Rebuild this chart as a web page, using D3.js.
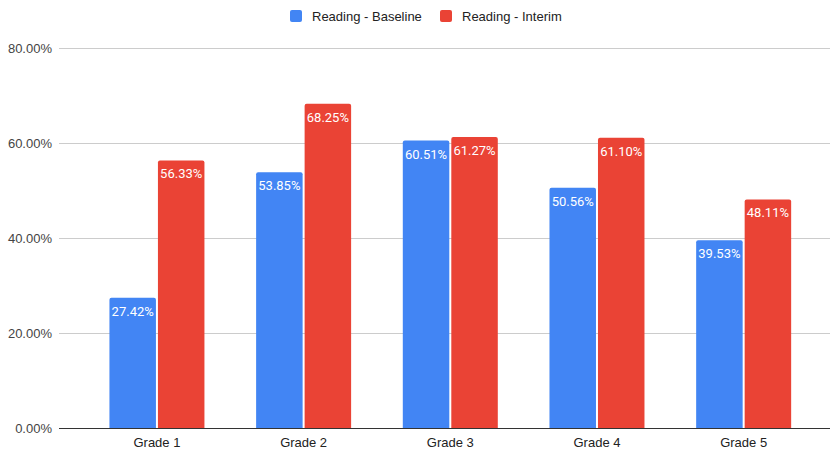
<!DOCTYPE html>
<html>
<head>
<meta charset="utf-8">
<script src="https://cdn.jsdelivr.net/npm/d3@7"></script>
<style>
  html, body { margin: 0; padding: 0; background: #fff; }
  svg { display: block; font-family: "Liberation Sans", Arial, sans-serif; }
</style>
</head>
<body>
<svg id="chart" width="832" height="454"></svg>
<script>
const categories = ["Grade 1", "Grade 2", "Grade 3", "Grade 4", "Grade 5"];
const seriesNames = ["Reading - Baseline", "Reading - Interim"];
const baseline = [27.42, 53.85, 60.51, 50.56, 39.53];
const interim = [56.33, 68.25, 61.27, 61.10, 48.11];
const yTicks = [0, 20, 40, 60, 80];
const colors = ["#4285F4", "#EA4335"];

const svg = d3.select("#chart");
const gridLeft = 59, gridRight = 830;
const plotTop = 48, plotBottom = 428;

const x = d3.scaleBand().domain(categories).range([83.6, 817]).paddingInner(0).paddingOuter(0);
const xs = d3.scaleBand().domain([0, 1]).range([0, 95]).padding(0);
const y = d3.scaleLinear().domain([0, 80]).range([plotBottom, plotTop]);

// horizontal gridlines
svg.append("g").selectAll("line").data(yTicks.filter(t => t > 0)).join("line")
  .attr("x1", gridLeft).attr("x2", gridRight)
  .attr("y1", d => Math.round(y(d)) + 0.5).attr("y2", d => Math.round(y(d)) + 0.5)
  .attr("stroke", "#cccccc").attr("stroke-width", 1);

// y-axis labels
svg.append("g").selectAll("text").data(yTicks).join("text")
  .attr("x", 52).attr("y", d => y(d) + 4.5)
  .attr("text-anchor", "end").attr("font-size", 13).attr("fill", "#444")
  .text(d => d.toFixed(2) + "%");

const rows = categories.map((c, i) => ({ cat: c, vals: [baseline[i], interim[i]] }));

const groups = svg.append("g").selectAll("g").data(rows).join("g")
  .attr("transform", d => `translate(${x(d.cat) + (x.bandwidth() - 95) / 2},0)`);

function barPath(x0, w, yTop, yBot, r) {
  return `M${x0},${yBot} L${x0},${yTop + r} Q${x0},${yTop} ${x0 + r},${yTop} L${x0 + w - r},${yTop} Q${x0 + w},${yTop} ${x0 + w},${yTop + r} L${x0 + w},${yBot} Z`;
}

groups.each(function (d) {
  const g = d3.select(this);
  d.vals.forEach((v, k) => {
    const bx = xs(k) + (k === 1 ? 1 : 0);
    const bw = xs.bandwidth() - 1;
    g.append("path")
      .attr("d", barPath(bx, bw, y(v), plotBottom, 2))
      .attr("fill", colors[k]);
    g.append("text")
      .attr("x", bx + bw / 2).attr("y", y(v) + 18)
      .attr("text-anchor", "middle").attr("font-size", 13)
      .attr("font-family", "Roboto, sans-serif").attr("fill", "#fff")
      .text(v.toFixed(2) + "%");
  });
});

// baseline axis
svg.append("line").attr("x1", gridLeft).attr("x2", gridRight)
  .attr("y1", plotBottom + 0.5).attr("y2", plotBottom + 0.5)
  .attr("stroke", "#333").attr("stroke-width", 1);

// x-axis labels
svg.append("g").selectAll("text").data(categories).join("text")
  .attr("x", d => x(d) + x.bandwidth() / 2).attr("y", 446.5)
  .attr("text-anchor", "middle").attr("font-size", 13).attr("fill", "#222")
  .text(d => d);

// legend
const legendX = [290, 440];
const lg = svg.append("g").selectAll("g").data(seriesNames).join("g")
  .attr("transform", (d, i) => `translate(${legendX[i]},10)`);
lg.append("rect").attr("width", 12).attr("height", 12).attr("rx", 2).attr("fill", (d, i) => colors[i]);
lg.append("text").attr("x", 22).attr("y", 10.5).attr("font-size", 13).attr("fill", "#222").text(d => d);
</script>
</body>
</html>
